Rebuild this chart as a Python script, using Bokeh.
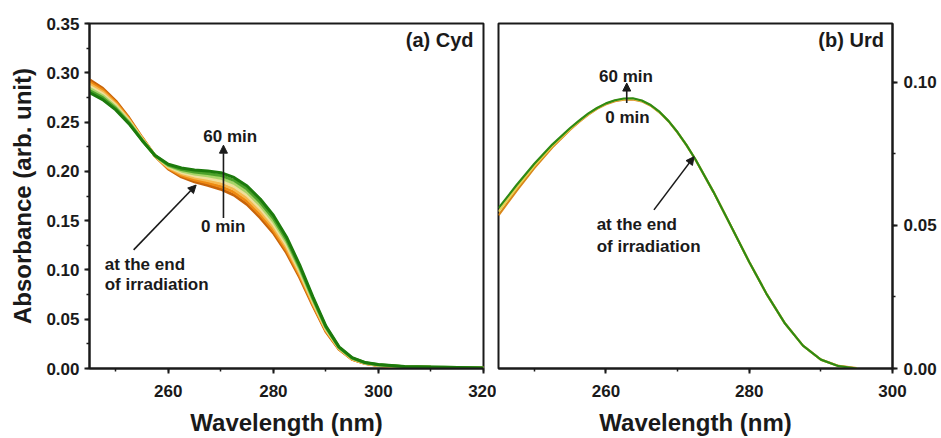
from bokeh.plotting import figure
from bokeh.layouts import row
from bokeh.models import (SingleIntervalTicker, Range1d, Label, Arrow, NormalHead,
                          NumeralTickFormatter)
from bokeh.embed import file_html
from bokeh.resources import INLINE

# ---------------- data: (a) Cyd ----------------
wl_cyd = [245, 247.5, 250, 252.5, 255, 257.5, 260, 262.5, 265, 267.5, 270, 272.5, 275,
          277.5, 280, 282.5, 285, 287.5, 290, 292.5, 295, 297.5, 300, 305, 310, 315, 320]
cyd_0min = [.293, .2845, .2715, .2545, .2345, .2155, .2025, .1945, .1895, .1860, .1820, .1760, .1665,
            .1530, .1375, .1175, .0925, .0640, .0375, .0195, .0092, .0050, .0030, .0015, .0010, .0007, .0005]
cyd_10min = [.2908, .2826, .2700, .2535, .2340, .2156, .2033, .1960, .1915, .1884, .1848, .1790, .1697,
             .1562, .1405, .1202, .0946, .0655, .0384, .0199, .0094, .0052, .0031, .0016, .0011, .0008, .0005]
cyd_20min = [.2887, .2807, .2685, .2525, .2335, .2157, .2041, .1975, .1935, .1908, .1876, .1820, .1728,
             .1593, .1435, .1228, .0967, .0670, .0393, .0203, .0097, .0053, .0032, .0017, .0012, .0008, .0005]
cyd_30min = [.2865, .2788, .2670, .2515, .2330, .2158, .2049, .1990, .1955, .1932, .1904, .1850, .1759,
             .1625, .1465, .1255, .0988, .0685, .0403, .0207, .0100, .0055, .0034, .0017, .0012, .0008, .0005]
cyd_40min = [.2843, .2769, .2655, .2505, .2325, .2159, .2057, .2005, .1975, .1956, .1932, .1880, .1790,
             .1657, .1495, .1282, .1009, .0700, .0412, .0211, .0103, .0057, .0036, .0018, .0013, .0009, .0005]
cyd_50min = [.2822, .2750, .2640, .2495, .2320, .2160, .2065, .2020, .1995, .1980, .1960, .1910, .1821,
             .1688, .1525, .1308, .1030, .0715, .0421, .0215, .0106, .0058, .0038, .0019, .0014, .0010, .0005]
cyd_60min = [.2800, .2730, .2625, .2485, .2315, .2161, .2073, .2035, .2015, .2004, .1988, .1940, .1852,
             .1720, .1555, .1335, .1052, .0730, .0430, .0220, .0110, .0060, .0040, .0020, .0015, .0010, .0005]

# ---------------- data: (b) Urd ----------------
wl_urd = [245, 247.5, 250, 252.5, 255, 256.25, 257.5, 258.75, 260, 261.25, 262.5, 263.75, 265,
          266.25, 267.5, 268.75, 270, 271.25, 272.5, 275, 277.5, 280, 282.5, 285, 287.5, 290,
          292.5, 295]
urd_0min = [.0535, .0620, .0700, .0772, .0834, .0861, .0886, .0907, .0923, .0934, .0939, .0940, .0933,
            .0918, .0894, .0863, .0824, .0779, .0729, .0617, .0495, .0372, .0257, .0157, .0080, .0031,
            .0009, .0001]
urd_30min = [.0548, .0630, .0708, .0777, .0837, .0864, .0888, .0909, .0925, .0936, .0941, .0942, .0935,
             .0919, .0895, .0864, .0825, .0780, .0730, .0617, .0495, .0372, .0257, .0157, .0080, .0031,
             .0008, .0000]
urd_60min = [.0560, .0640, .0715, .0782, .0840, .0866, .0890, .0910, .0926, .0937, .0943, .0944, .0936,
             .0920, .0896, .0864, .0825, .0780, .0730, .0617, .0495, .0372, .0257, .0157, .0080, .0031,
             .0008, .0000]

cyd_series = [cyd_0min, cyd_10min, cyd_20min, cyd_30min, cyd_40min, cyd_50min, cyd_60min]
cyd_colors = ['#C8640A', '#EE8A12', '#F6B84E', '#EEDF9A', '#A8D468', '#4CA22A', '#1C7A0C']
urd_series = [urd_0min, urd_30min, urd_60min]
urd_colors = ['#D9861A', '#E8D050', '#2E8A14']

FONT = "Liberation Sans"
INK = "#1a1a1a"


def style_axes(p, xint, yint, yfmt):
    for ax in p.xaxis + p.yaxis:
        ax.axis_line_width = 2
        ax.axis_line_color = INK
        ax.major_tick_line_width = 2
        ax.minor_tick_line_width = 1.5
        ax.major_tick_line_color = INK
        ax.minor_tick_line_color = INK
        ax.major_tick_in = 0
        ax.major_tick_out = 5
        ax.minor_tick_in = 0
        ax.minor_tick_out = 3
        ax.major_label_text_font = FONT
        ax.major_label_text_font_style = "bold"
        ax.major_label_text_font_size = "17px"
        ax.major_label_text_color = INK
        ax.axis_label_text_font = FONT
        ax.axis_label_text_font_style = "bold"
        ax.axis_label_text_font_size = "24px"
        ax.axis_label_text_color = INK
    p.xaxis.ticker = SingleIntervalTicker(interval=xint, num_minor_ticks=2)
    p.yaxis.ticker = SingleIntervalTicker(interval=yint, num_minor_ticks=2)
    p.yaxis.formatter = NumeralTickFormatter(format=yfmt)
    p.xaxis.major_label_standoff = 11
    p.yaxis.major_label_standoff = 5
    p.xaxis.axis_label_standoff = 9
    p.grid.visible = False
    p.outline_line_color = INK
    p.outline_line_width = 2
    p.outline_line_alpha = 1
    p.background_fill_color = "white"
    p.border_fill_color = "white"


def add_text(p, x, y, text, align="center", size="17px"):
    p.add_layout(Label(x=x, y=y, text=text, text_font=FONT, text_font_style="bold",
                       text_font_size=size, text_color=INK, text_align=align,
                       text_baseline="middle"))


def add_arrow(p, x0, y0, x1, y1):
    p.add_layout(Arrow(end=NormalHead(size=8, fill_color=INK, line_color=INK, line_width=1),
                       x_start=x0, y_start=y0, x_end=x1, y_end=y1,
                       line_color=INK, line_width=1.6))


# ---------------- left panel ----------------
p1 = figure(width=496, height=438, output_backend="svg", toolbar_location=None,
            x_range=Range1d(245, 320), y_range=Range1d(0, 0.3502),
            min_border_left=89, min_border_right=13, min_border_top=23, min_border_bottom=69)
for ys, c in zip(cyd_series, cyd_colors):
    p1.line(wl_cyd, ys, line_color=c, line_width=3)
style_axes(p1, 20, 0.05, "0.00")
p1.xaxis.axis_label = "Wavelength (nm)"
p1.yaxis.axis_label = "Absorbance (arb. unit)"
p1.yaxis.axis_label_standoff = 7

add_text(p1, 318.1, 0.333, "(a) Cyd", align="right", size="20px")
add_text(p1, 271.8, 0.2358, "60 min")
add_text(p1, 270.45, 0.1437, "0 min")
add_text(p1, 247.9, 0.1052, "at the end", align="left")
add_text(p1, 247.9, 0.0850, "of irradiation", align="left")
add_arrow(p1, 270.5, 0.1528, 270.5, 0.2267)
add_arrow(p1, 253.4, 0.1204, 265.3, 0.1862)

# ---------------- right panel ----------------
p2 = figure(width=445, height=438, output_backend="svg", toolbar_location=None,
            x_range=Range1d(245, 300), y_range=Range1d(0, 0.1205),
            y_axis_location="right",
            min_border_left=2, min_border_right=49, min_border_top=23, min_border_bottom=69)
for ys, c in zip(urd_series, urd_colors):
    p2.line(wl_urd, ys, line_color=c, line_width=2.2)
style_axes(p2, 20, 0.05, "0.00")
p2.yaxis.major_tick_out = 5
p2.yaxis.major_label_standoff = 6
p2.xaxis.axis_label = "Wavelength (nm)"

add_text(p2, 298.8, 0.1146, "(b) Urd", align="right", size="20px")
add_text(p2, 262.8, 0.1021, "60 min")
add_text(p2, 263.0, 0.0875, "0 min")
add_text(p2, 258.7, 0.0502, "at the end", align="left")
add_text(p2, 258.7, 0.0426, "of irradiation", align="left")
add_arrow(p2, 262.9, 0.0927, 262.9, 0.0997)
add_arrow(p2, 266.7, 0.0554, 272.3, 0.0740)

layout = row(p1, p2)
open("out.html", "w").write(file_html(layout, INLINE))
